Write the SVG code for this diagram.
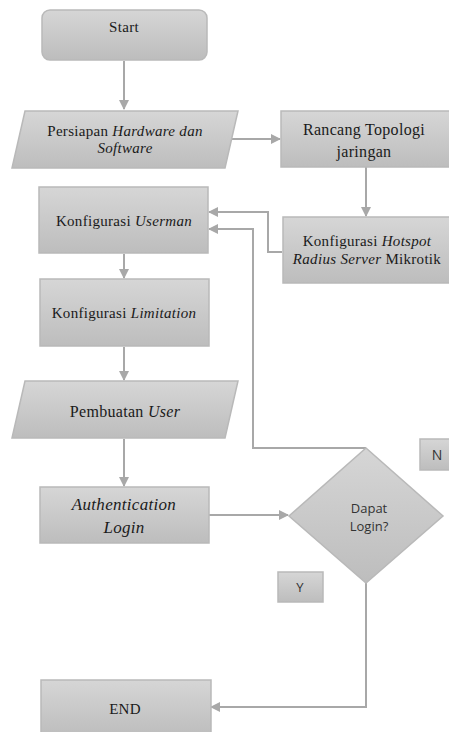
<svg xmlns="http://www.w3.org/2000/svg" width="449" height="732" viewBox="0 0 449 732">
<defs>
<linearGradient id="g" x1="0" y1="0" x2="0" y2="1">
<stop offset="0" stop-color="#d6d6d6"/>
<stop offset="1" stop-color="#bdbdbd"/>
</linearGradient>
<marker id="ah" viewBox="0 0 10 10" refX="9" refY="5" markerWidth="5" markerHeight="5" orient="auto" markerUnits="strokeWidth">
<path d="M0,0 L10,5 L0,10 z" fill="#a8a8a8"/>
</marker>
<style>
.n{fill:url(#g);stroke:#b9b9b9;stroke-width:1.5}
.c{fill:none;stroke:#a8a8a8;stroke-width:2;marker-end:url(#ah)}
.t{font-family:"Liberation Serif","Times New Roman",serif;font-size:15px;fill:#1a1a1a;text-anchor:middle;letter-spacing:0.3px}
.s{font-family:"Open Sans","Liberation Sans",sans-serif;font-size:13px;fill:#333;text-anchor:middle}
.i{font-style:italic}
</style>
</defs>
<g id="connectors">
<path class="c" d="M124,61 V109"/>
<path class="c" d="M232,139 H280"/>
<path class="c" d="M366,167 V216"/>
<path class="c" d="M282,252 H268 V212 H209"/>
<path class="c" d="M366,448 H253 V229 H209"/>
<path class="c" d="M124,254 V278"/>
<path class="c" d="M124,347 V380"/>
<path class="c" d="M124,439 V486"/>
<path class="c" d="M209,515 H288"/>
<path class="c" d="M366,583 V707 H211"/>
</g>
<g id="start">
<rect class="n" x="42" y="10" width="165" height="50" rx="8"/>
<text class="t" x="124" y="32">Start</text>
</g>
<g id="persiapan">
<polygon class="n" points="25,111 238,111 225,168 12,168"/>
<text class="t" x="125" y="136">Persiapan <tspan class="i">Hardware dan</tspan></text>
<text class="t i" x="125" y="153">Software</text>
</g>
<g id="rancang">
<rect class="n" x="281" y="111" width="170" height="56"/>
<text class="t" x="364" y="135" style="font-size:16px">Rancang Topologi</text>
<text class="t" x="364" y="157" style="font-size:16px">jaringan</text>
</g>
<g id="hotspot">
<rect class="n" x="283" y="217" width="168" height="66"/>
<text class="t" x="367" y="246">Konfigurasi <tspan class="i">Hotspot</tspan></text>
<text class="t" x="367" y="264"><tspan class="i">Radius Server</tspan> Mikrotik</text>
</g>
<g id="userman">
<rect class="n" x="39" y="187" width="169" height="66"/>
<text class="t" x="124" y="226">Konfigurasi <tspan class="i">Userman</tspan></text>
</g>
<g id="limitation">
<rect class="n" x="40" y="279" width="169" height="67"/>
<text class="t" x="124" y="318">Konfigurasi <tspan class="i">Limitation</tspan></text>
</g>
<g id="pembuatan">
<polygon class="n" points="25,381 238,381 225,438 12,438"/>
<text class="t" x="125" y="417" style="font-size:16px">Pembuatan <tspan class="i">User</tspan></text>
</g>
<g id="auth">
<rect class="n" x="40" y="487" width="169" height="56"/>
<text class="t i" x="124" y="510" style="font-size:17px">Authentication</text>
<text class="t i" x="124" y="533" style="font-size:17px">Login</text>
</g>
<g id="decision">
<polygon class="n" points="366,448 443,516 366,583 289,516"/>
<text class="s" x="369" y="513">Dapat</text>
<text class="s" x="369" y="531">Login?</text>
</g>
<g id="label-n">
<rect class="n" x="420" y="439" width="32" height="31"/>
<text class="s" x="437" y="460" style="font-size:14px">N</text>
</g>
<g id="label-y">
<rect class="n" x="278" y="572" width="45" height="30"/>
<text class="s" x="300" y="592" style="font-size:13px">Y</text>
</g>
<g id="end">
<rect class="n" x="41" y="680" width="170" height="56"/>
<text class="t" x="125" y="714">END</text>
</g>
</svg>
